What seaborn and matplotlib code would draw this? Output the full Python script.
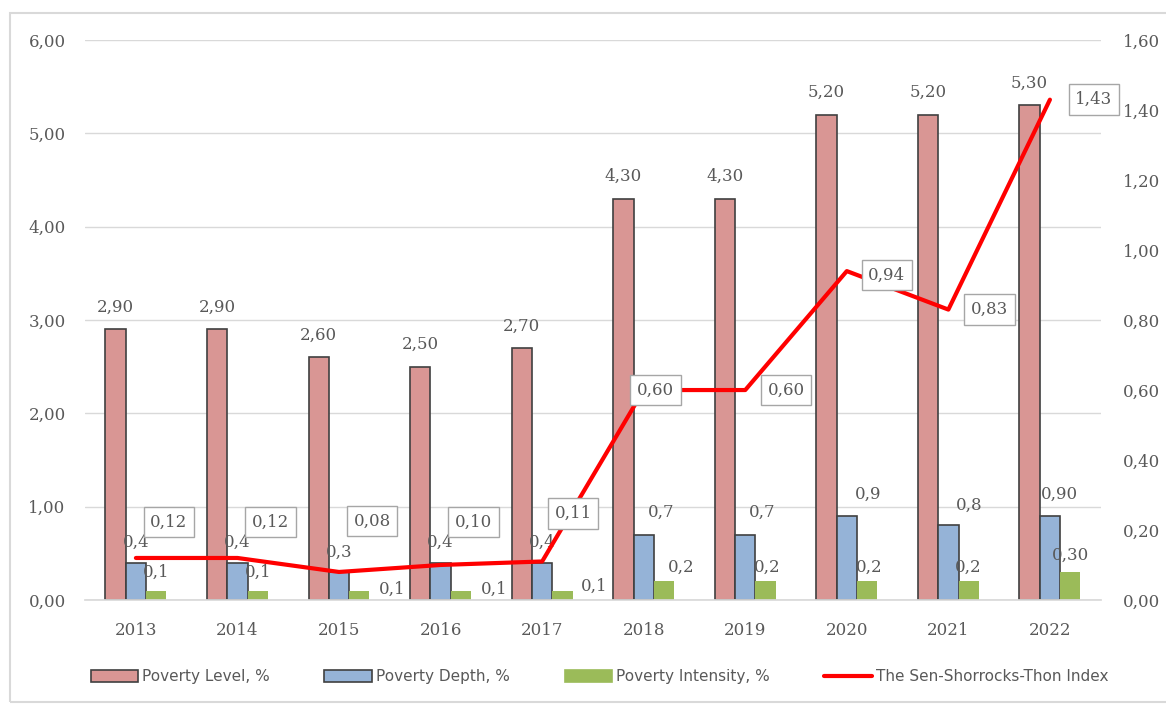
import numpy as np
import pandas as pd
import matplotlib.pyplot as plt
import seaborn as sns
from matplotlib.patches import Patch, Rectangle
from matplotlib.lines import Line2D

sns.set_theme(style="white")

# data
years = ["2013", "2014", "2015", "2016", "2017", "2018", "2019", "2020", "2021", "2022"]
poverty_level = [2.90, 2.90, 2.60, 2.50, 2.70, 4.30, 4.30, 5.20, 5.20, 5.30]
poverty_depth = [0.4, 0.4, 0.3, 0.4, 0.4, 0.7, 0.7, 0.9, 0.8, 0.90]
poverty_intensity = [0.1, 0.1, 0.1, 0.1, 0.1, 0.2, 0.2, 0.2, 0.2, 0.30]
sst_index = [0.12, 0.12, 0.08, 0.10, 0.11, 0.60, 0.60, 0.94, 0.83, 1.43]

level_labels = ["2,90", "2,90", "2,60", "2,50", "2,70", "4,30", "4,30", "5,20", "5,20", "5,30"]
depth_labels = ["0,4", "0,4", "0,3", "0,4", "0,4", "0,7", "0,7", "0,9", "0,8", "0,90"]
intensity_labels = ["0,1", "0,1", "0,1", "0,1", "0,1", "0,2", "0,2", "0,2", "0,2", "0,30"]
sst_labels = ["0,12", "0,12", "0,08", "0,10", "0,11", "0,60", "0,60", "0,94", "0,83", "1,43"]

series = ["Poverty Level, %", "Poverty Depth, %", "Poverty Intensity, %"]
line_name = "The Sen-Shorrocks-Thon Index"
colors = ["#D99694", "#95B3D7", "#9BBB59"]
edges = ["#404040", "#404040", "none"]
red = "#FF0000"
txt = "#595959"
num_font = "DejaVu Serif"

df = pd.DataFrame({
    "year": years * 3,
    "series": np.repeat(series, len(years)),
    "value": poverty_level + poverty_depth + poverty_intensity,
})

fig = plt.figure(figsize=(11.66, 7.05), dpi=100)
ax = fig.add_axes([0.073, 0.149, 0.871, 0.794])

sns.barplot(data=df, x="year", y="value", hue="series", palette=colors,
            width=0.6, ax=ax, legend=False, saturation=1)

# bar edges
n = len(years)
for i, p in enumerate(ax.patches[:3 * n]):
    s = i // n
    p.set_edgecolor(edges[s])
    p.set_linewidth(1.2 if edges[s] != "none" else 0)

ax.set_ylim(0, 6)
ax.set_xlim(-0.5, n - 0.5)
ax.set_yticks(np.arange(0, 6.01, 1))
ax.set_yticklabels([f"{v:.2f}".replace(".", ",") for v in np.arange(0, 6.01, 1)])
ax.yaxis.grid(True, color="#D9D9D9", linewidth=1)
ax.set_axisbelow(True)
ax.set_xlabel("")
ax.set_ylabel("")
for sp in ["top", "right", "left"]:
    ax.spines[sp].set_visible(False)
ax.spines["bottom"].set_color("#D9D9D9")
ax.tick_params(axis="x", length=0, pad=16, labelsize=12, labelcolor=txt)
ax.tick_params(axis="y", length=0, pad=14, labelsize=12, labelcolor=txt)
for lab in ax.get_xticklabels() + ax.get_yticklabels():
    lab.set_family(num_font)

# secondary axis with the index line
ax2 = ax.twinx()
sns.lineplot(x=np.arange(n), y=sst_index, ax=ax2, color=red, linewidth=3)
ax2.set_ylim(0, 1.6)
ticks2 = np.arange(0, 1.61, 0.2)
ax2.set_yticks(ticks2)
ax2.set_yticklabels([f"{v:.2f}".replace(".", ",") for v in ticks2])
ax2.tick_params(axis="y", length=0, pad=16, labelsize=12, labelcolor=txt)
for lab in ax2.get_yticklabels():
    lab.set_family(num_font)
for sp in ax2.spines.values():
    sp.set_visible(False)
ax2.set_xlim(-0.5, n - 0.5)

# bar value labels
level_off = [(0, 22)] * n
depth_off = [(0, 20), (0, 20), (0, 20), (0, 20), (0, 20),
             (17, 22), (17, 22), (21, 22), (21, 20), (10, 22)]
int_off = [(0, 18), (0, 18), (33, 1), (33, 1), (32, 4),
           (17, 14), (2, 14), (2, 14), (0, 14), (0, 17)]
bar_sets = [(poverty_level, level_labels, level_off),
            (poverty_depth, depth_labels, depth_off),
            (poverty_intensity, intensity_labels, int_off)]
for s, (vals, labs, offs) in enumerate(bar_sets):
    for i in range(n):
        p = ax.patches[s * n + i]
        cx = p.get_x() + p.get_width() / 2
        ax.annotate(labs[i], (cx, vals[i]), xytext=offs[i], textcoords="offset pixels",
                    ha="center", va="center", fontsize=12, color=txt,
                    family=num_font, annotation_clip=False)

# boxed labels on the line
sst_off = [(33, 36), (33, 36), (33, 51), (33, 43), (31, 48),
           (12, 0), (41, 0), (40, -4), (41, 0), (44, 0)]
for i in range(n):
    ax2.annotate(sst_labels[i], (i, sst_index[i]), xytext=sst_off[i],
                 textcoords="offset pixels", ha="center", va="center",
                 fontsize=12, color=txt, family=num_font, annotation_clip=False,
                 bbox=dict(boxstyle="square,pad=0.4", fc="white", ec="#A6A6A6", lw=1),
                 zorder=5)

# legend
handles = [Patch(facecolor=colors[k], edgecolor=edges[k] if edges[k] != "none" else colors[k],
                 linewidth=1.2) for k in range(3)]
handles.append(Line2D([0], [0], color=red, linewidth=3))
leg = fig.legend(handles, series + [line_name], loc="center", bbox_to_anchor=(0.514, 0.04),
                 ncol=4, frameon=False, fontsize=11, handlelength=3.1, handleheight=0.8,
                 columnspacing=3.6, handletextpad=0.25)
for t in leg.get_texts():
    t.set_color(txt)

# chart area border
fig.patches.append(Rectangle((0.009, 0.004), 1.2, 0.977, transform=fig.transFigure,
                             fill=False, edgecolor="#D9D9D9", linewidth=1.5))

fig.savefig("out.png", dpi=100, facecolor="white")
